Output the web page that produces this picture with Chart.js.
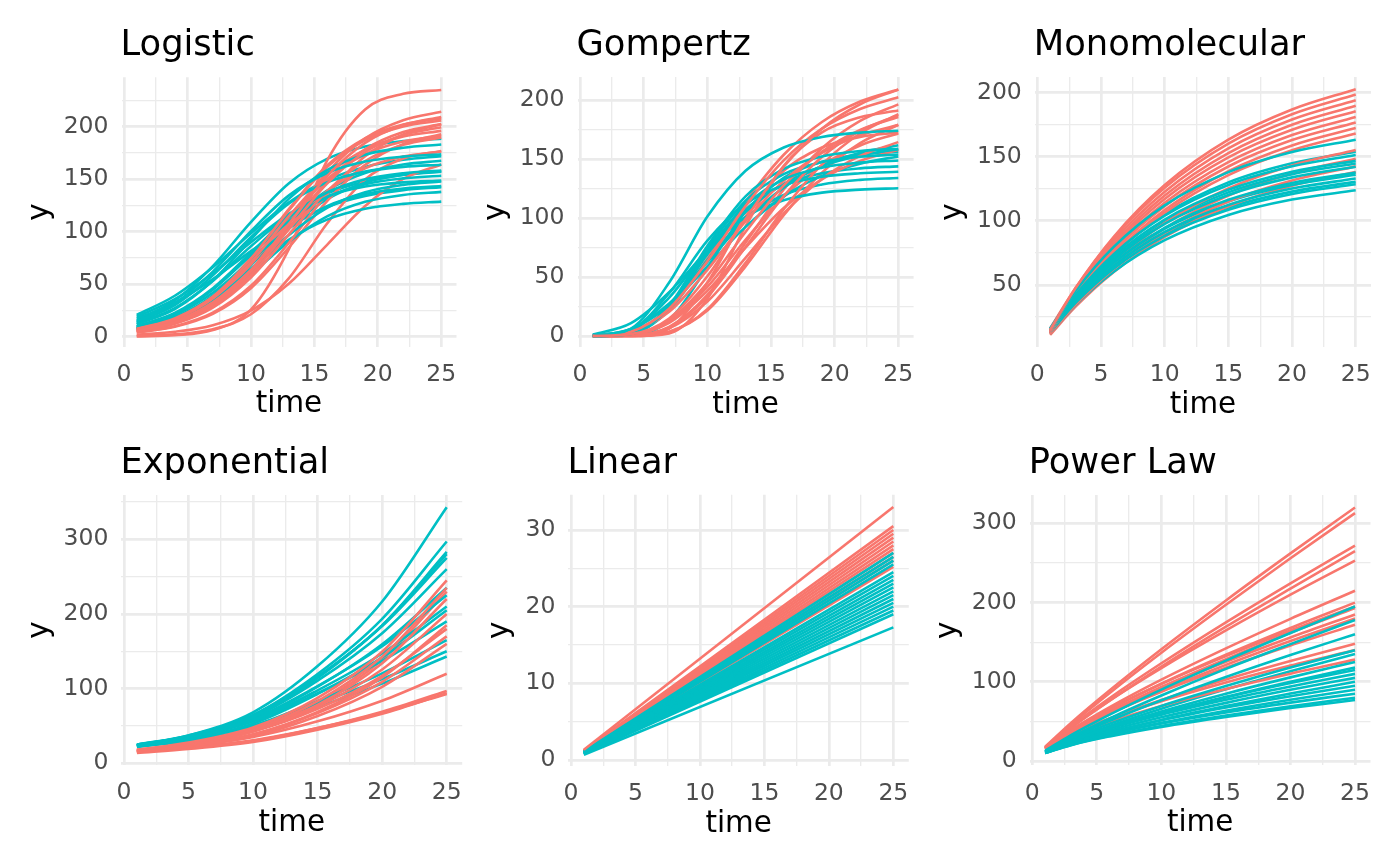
<!DOCTYPE html>
<html lang="en">
<head>
  <meta charset="UTF-8" />
  <title>Growth curve models</title>
  <script src="https://cdn.jsdelivr.net/npm/chart.js"></script>
  <style>
    body { margin: 0; background: #fff; }
    #wrap { position: relative; width: 1400px; height: 865px; overflow: hidden; }
    #wrap canvas { position: absolute; }
  </style>
</head>
<body>
<div id="wrap">
  <canvas id="logistic"></canvas>
  <canvas id="gompertz"></canvas>
  <canvas id="mono"></canvas>
  <canvas id="expo"></canvas>
  <canvas id="linear"></canvas>
  <canvas id="power"></canvas>
</div>
<script>
// colours of the two groups (ggplot default hues)
const RED = '#F8766D', TEAL = '#00BFC4';

// sample times per model
const tSig = [1, 4, 7, 10, 13, 16, 19, 22, 25];
const tMono = [1, 3, 6, 10, 15, 20, 25];
const tExp = [1, 5, 10, 15, 20, 25];
const tLin = [1, 25];
const tPow = [1, 3, 6, 10, 15, 20, 25];

// Logistic
const logisticRed = [
  [5.7, 13.5, 30.5, 62.1, 107.5, 152.9, 184.5, 201.5, 209.2],
  [5.5, 12.9, 29.1, 59.2, 102.5, 145.8, 175.9, 192.1, 199.5],
  [7.5, 17.4, 38.2, 74.3, 120.5, 161.5, 187.1, 200.1, 205.8],
  [7.1, 16.6, 36.4, 70.8, 114.8, 153.8, 178.2, 190.6, 196.0],
  [5.2, 12.3, 27.7, 56.4, 97.5, 138.6, 167.3, 182.7, 189.7],
  [6.4, 14.9, 32.8, 63.7, 103.3, 138.4, 160.4, 171.5, 176.4],
  [4.2, 10.0, 22.9, 48.5, 89.5, 135.7, 171.8, 192.6, 202.4],
  [5.9, 13.9, 31.2, 63.6, 110.0, 156.4, 188.8, 206.1, 214.1],
  [6.9, 16.2, 35.5, 69.0, 111.9, 150.0, 173.7, 185.8, 191.1],
  [4.0, 9.5, 21.8, 46.2, 85.2, 129.2, 163.6, 183.4, 192.8],
  [0.3, 1.4, 6.3, 25.7, 83.6, 167.7, 216.4, 231.3, 234.9],
  [1.9, 4.7, 11.0, 24.9, 50.6, 87.5, 124.4, 150.2, 164.0],
  [0.7, 2.2, 7.1, 21.4, 55.8, 107.8, 149.8, 169.7, 176.8],
  [5.5, 13.1, 29.5, 60.1, 104.0, 147.9, 178.5, 194.9, 202.4],
  [7.5, 17.6, 38.6, 75.0, 121.7, 163.0, 188.9, 202.0, 207.8]
];
const logisticTeal = [
  [14.5, 31.9, 62.0, 100.5, 134.6, 155.9, 166.8, 171.5, 173.6],
  [11.7, 26.3, 53.5, 92.5, 131.5, 158.7, 173.3, 180.0, 183.0],
  [13.7, 30.0, 58.4, 94.7, 126.9, 147.0, 157.2, 161.7, 163.7],
  [10.1, 22.7, 46.2, 80.0, 113.8, 137.3, 149.9, 155.7, 158.2],
  [9.8, 22.0, 44.8, 77.5, 110.2, 133.0, 145.2, 150.8, 153.3],
  [7.1, 16.4, 34.7, 63.9, 96.9, 122.7, 137.6, 144.6, 147.8],
  [9.1, 20.6, 41.9, 72.5, 103.1, 124.4, 135.9, 141.1, 143.4],
  [6.6, 15.3, 32.3, 59.6, 90.4, 114.5, 128.4, 135.0, 137.9],
  [8.2, 18.5, 37.6, 65.0, 92.4, 111.5, 121.8, 126.5, 128.6],
  [8.1, 18.5, 39.3, 72.4, 109.8, 139.1, 155.9, 163.9, 167.5],
  [12.5, 27.3, 53.1, 86.1, 115.4, 133.7, 143.0, 147.0, 148.8],
  [7.6, 17.4, 37.0, 68.2, 103.4, 130.9, 146.7, 154.2, 157.6],
  [19.0, 35.7, 60.5, 89.9, 117.0, 136.3, 147.8, 154.1, 157.1],
  [20.8, 39.0, 66.2, 98.4, 127.9, 149.1, 161.7, 168.5, 171.9],
  [17.3, 32.3, 54.8, 81.5, 106.0, 123.5, 134.0, 139.6, 142.4],
  [15.8, 34.6, 67.3, 109.1, 146.1, 169.3, 181.1, 186.2, 188.5]
];

// Gompertz
const gompertzRed = [
  [0.03, 1.6, 14.9, 50.6, 99.2, 143.6, 175.7, 196.4, 208.8],
  [0.13, 3.7, 23.2, 63.4, 110.1, 148.8, 175.7, 192.4, 202.3],
  [0.02, 1.4, 13.2, 45.0, 88.2, 127.6, 156.2, 174.6, 185.6],
  [0, 0.5, 7.4, 33.2, 75.4, 118.5, 151.7, 173.8, 187.2],
  [0.1, 3.3, 20.5, 56.1, 97.3, 131.5, 155.2, 170.1, 178.8],
  [0, 0.1, 3.6, 22.7, 62.0, 107.5, 145.3, 171.6, 188.0],
  [0, 0.4, 6.5, 29.2, 66.2, 104.0, 133.2, 152.6, 164.3],
  [0, 1.2, 11.2, 38.3, 75.0, 108.5, 132.8, 148.4, 157.8],
  [0, 0, 2.2, 31.6, 93.0, 144.3, 172.6, 185.4, 191.1],
  [0, 0, 6.3, 45.3, 101.2, 140.0, 159.8, 168.7, 172.4],
  [0, 0.1, 3.5, 21.6, 59.0, 102.4, 138.4, 163.4, 179.0],
  [0, 1.3, 12.2, 41.6, 81.6, 118.0, 144.5, 161.5, 171.7],
  [0.1, 3.8, 24.0, 65.5, 113.7, 153.6, 181.4, 198.7, 208.9],
  [0, 0.5, 7.7, 34.8, 79.1, 124.3, 159.1, 182.3, 196.3]
];
const gompertzTeal = [
  [0.05, 6.3, 45.3, 101.2, 140.0, 159.8, 168.7, 172.4, 174.0],
  [0, 1.7, 24.3, 71.6, 111.0, 132.8, 142.7, 147.0, 148.8],
  [0, 1.8, 25.9, 76.3, 118.4, 141.6, 152.2, 156.8, 158.7],
  [0.04, 5.0, 36.3, 80.9, 112.0, 127.8, 135.0, 137.9, 139.2],
  [0, 1.8, 25.1, 73.9, 114.7, 137.2, 147.4, 151.9, 153.8],
  [0.04, 4.5, 32.6, 72.8, 100.8, 115.0, 121.5, 124.1, 125.2],
  [1.2, 10.9, 37.1, 72.8, 105.3, 128.9, 144.0, 153.1, 158.4],
  [0.4, 5.8, 25.9, 58.9, 92.5, 118.4, 135.7, 146.1, 152.2],
  [0, 1.6, 23.5, 69.2, 107.3, 128.3, 137.9, 142.1, 143.8],
  [0.4, 6.1, 27.5, 62.6, 98.3, 125.8, 144.2, 155.2, 161.7],
  [0, 1.5, 21.9, 64.4, 99.9, 119.5, 128.4, 132.3, 133.9],
  [0, 0.4, 13.5, 58.1, 105.2, 134.0, 147.7, 153.7, 156.3]
];

// Monomolecular
const monoRed = [
  [15, 47.6, 87.6, 127.9, 163.3, 186.8, 202.7],
  [15, 46.1, 84.3, 122.7, 156.5, 179.0, 194.1],
  [14, 44.5, 82.0, 119.7, 152.8, 174.9, 189.7],
  [14, 43.7, 80.3, 117.1, 149.5, 171.0, 185.5],
  [13, 41.4, 76.4, 111.5, 142.4, 163.0, 176.8],
  [13, 42.2, 78.0, 114.1, 145.8, 166.9, 181.0],
  [12, 39.8, 74.0, 108.4, 138.7, 158.8, 172.4],
  [12, 34.6, 62.5, 90.5, 115.1, 131.5, 142.5],
  [12, 36.9, 67.4, 98.2, 125.2, 143.2, 155.3],
  [11, 33.1, 60.2, 87.4, 111.4, 127.4, 138.1],
  [16, 47.7, 86.6, 125.8, 160.2, 183.1, 198.5],
  [13, 39.9, 73.1, 106.4, 135.7, 155.1, 168.2],
  [12, 35.7, 64.8, 94.1, 119.8, 137.0, 148.5]
];
const monoTeal = [
  [16, 45.3, 79.7, 112.1, 138.0, 153.7, 163.3],
  [15, 42.2, 74.0, 104.0, 128.0, 142.5, 151.4],
  [15, 41.2, 72.0, 101.0, 124.2, 138.3, 146.8],
  [14, 39.5, 69.4, 97.6, 120.2, 133.9, 142.2],
  [14, 38.6, 67.4, 94.6, 116.4, 129.6, 137.7],
  [13, 36.9, 64.9, 91.3, 112.4, 125.2, 133.0],
  [13, 36.0, 62.9, 88.3, 108.6, 121.0, 128.5],
  [12, 34.3, 60.3, 84.9, 104.6, 116.6, 123.8],
  [15, 39.1, 67.3, 93.9, 115.1, 128.0, 135.9],
  [13, 39.2, 70.0, 99.0, 122.2, 136.3, 144.8],
  [14, 37.2, 64.3, 89.9, 110.4, 122.8, 130.4],
  [14, 41.9, 74.5, 105.3, 130.0, 144.9, 154.0]
];

// Exponential
const expoRed = [
  [18, 27.8, 47.9, 87.5, 149.3, 245],
  [17, 26.3, 45.5, 83.4, 142.8, 235],
  [16, 24.8, 42.8, 78.2, 134.1, 220],
  [17, 25.6, 42.8, 75.9, 125.7, 200],
  [15, 22.8, 38.5, 68.8, 115.2, 185],
  [18, 26.4, 42.7, 73.0, 117.2, 180],
  [16, 23.7, 38.8, 67.3, 109.1, 170],
  [15, 22.3, 36.4, 63.3, 102.5, 160],
  [17, 23.5, 35.4, 56.3, 83.9, 120],
  [15, 20.5, 30.2, 47.3, 69.1, 97],
  [14, 19.2, 28.6, 45.1, 66.4, 94],
  [16, 21.4, 31.0, 47.3, 67.7, 93],
  [16, 24.9, 43.5, 80.2, 138.6, 230]
];
const expoTeal = [
  [24, 37.4, 68.3, 130.2, 216.7, 343],
  [24, 36.5, 64.8, 119.7, 193.5, 297],
  [23, 34.9, 61.8, 114.3, 184.7, 283],
  [25, 37.3, 64.5, 116.4, 183.7, 275],
  [24, 35.7, 61.6, 110.7, 174.2, 260],
  [23, 33.9, 57.8, 102.6, 159.4, 235],
  [25, 36.1, 59.9, 103.5, 156.8, 225],
  [24, 34.4, 56.8, 97.8, 147.1, 210],
  [22, 31.9, 53.3, 93.0, 141.8, 205],
  [25, 35.1, 56.2, 93.8, 137.1, 190],
  [23, 31.9, 50.5, 83.5, 120.5, 165],
  [24, 32.6, 50.1, 80.4, 112.8, 150],
  [22, 30.1, 46.6, 75.4, 106.7, 143],
  [24, 36.1, 63.3, 115.7, 184.8, 280]
];

// Linear
const linearRed = [
  [1.32, 33], [1.22, 30.5], [1.2, 30], [1.18, 29.5], [1.16, 29], [1.14, 28.5],
  [1.12, 28], [1.1, 27.5], [1.08, 27], [1.06, 26.5], [1.04, 26], [1.01, 25.2]
];
const linearTeal = [
  [1.08, 27], [1.06, 26.5], [1.04, 26], [1.02, 25.5], [0.98, 24.5], [0.96, 24],
  [0.94, 23.5], [0.92, 23], [0.9, 22.5], [0.88, 22], [0.86, 21.5], [0.84, 21],
  [0.82, 20.5], [0.8, 20], [0.78, 19.5], [0.76, 19], [0.69, 17.3]
];

// Power law
const powerRed = [
  [18, 48.1, 89.3, 141.1, 202.7, 262.1, 320],
  [17, 45.9, 86.0, 136.7, 197.2, 255.9, 313],
  [17, 43.8, 79.6, 123.4, 175.1, 224.4, 272],
  [16, 41.8, 76.3, 119.2, 169.6, 217.6, 265],
  [17, 42.7, 76.5, 117.3, 164.9, 210.0, 253],
  [16, 38.9, 68.0, 102.7, 142.2, 179.5, 215],
  [16, 37.9, 65.3, 97.6, 134.1, 168.0, 200],
  [15, 35.9, 62.3, 93.5, 128.7, 162.0, 193],
  [16, 36.9, 62.4, 92.0, 125.3, 156.0, 185],
  [15, 35.0, 59.9, 88.8, 121.4, 151.5, 180],
  [16, 36.0, 60.0, 87.5, 117.9, 145.9, 172],
  [15, 32.7, 53.7, 77.1, 102.9, 126.2, 148],
  [16, 33.6, 53.6, 75.5, 99.2, 120.5, 140],
  [15, 31.2, 49.5, 69.6, 91.0, 110.3, 128],
  [17, 39.1, 66.1, 97.4, 132.4, 164.7, 195]
];
const powerTeal = [
  [13, 32.8, 58.6, 90.2, 126.8, 161.6, 195],
  [12, 30.1, 53.9, 82.7, 116.3, 147.6, 178],
  [12, 29.0, 50.8, 76.7, 106.2, 133.9, 160],
  [12, 27.7, 47.0, 69.6, 94.7, 118.1, 140],
  [11, 25.2, 42.6, 62.6, 85.0, 105.6, 125],
  [11, 24.8, 41.3, 60.0, 81.0, 100.0, 118],
  [12, 25.6, 41.2, 58.6, 77.3, 94.2, 110],
  [11, 23.8, 38.6, 55.2, 73.4, 89.9, 105],
  [10, 21.9, 36.0, 51.9, 69.3, 85.2, 100],
  [11, 23.0, 36.5, 51.5, 67.5, 81.8, 95],
  [10, 21.2, 34.0, 48.2, 63.6, 77.4, 90],
  [11, 22.1, 34.3, 47.4, 61.4, 73.7, 85],
  [10, 20.3, 31.8, 44.3, 57.5, 69.2, 80],
  [10, 20.1, 31.1, 43.1, 55.7, 66.9, 77],
  [11, 25.9, 44.4, 66.1, 90.6, 113.5, 135],
  [12, 25.9, 42.2, 60.4, 80.3, 98.4, 115]
];

Chart.defaults.font.family = '"DejaVu Sans", sans-serif';

// panel title drawn flush with the left edge of the plotting area
const panelTitle = {
  id: 'panelTitle',
  afterDraw(chart, args, opts) {
    const { ctx, chartArea } = chart;
    ctx.save();
    ctx.font = '35.3px "DejaVu Sans", sans-serif';
    ctx.fillStyle = '#000';
    ctx.textBaseline = 'alphabetic';
    ctx.textAlign = 'left';
    ctx.fillText(opts.text, chartArea.left - 1, chartArea.top - 22);
    ctx.restore();
  }
};

function series(t, rows, colour) {
  return rows.map(r => ({
    data: r.map((v, i) => ({ x: t[i], y: v })),
    borderColor: colour,
    borderWidth: 2.6,
    pointRadius: 0,
    fill: false,
    cubicInterpolationMode: 'monotone'
  }));
}

function interleave(a, b) {
  const out = [];
  for (let i = 0; i < Math.max(a.length, b.length); i++) {
    if (a[i]) out.push(a[i]);
    if (b[i]) out.push(b[i]);
  }
  return out;
}

// a tick is "major" every second minor step
const isMajor = (v, step) => Math.abs(v / (step * 2) - Math.round(v / (step * 2))) < 1e-6;

// box = canvas cell, area = wanted plotting rectangle (page px)
function panel(id, title, t, red, teal, box, area, y, titleX) {
  const cv = document.getElementById(id);
  cv.width = box.w; cv.height = box.h;
  cv.style.left = box.x + 'px'; cv.style.top = box.y + 'px';
  const grid = step => ({
    color: '#EBEBEB',
    drawTicks: false,
    lineWidth: c => (c.tick && isMajor(c.tick.value, step)) ? 2.7 : 1.35
  });
  new Chart(cv, {
    type: 'line',
    data: { datasets: interleave(series(t, red, RED), series(t, teal, TEAL)) },
    plugins: [panelTitle],
    options: {
      animation: false,
      responsive: false,
      layout: { padding: { top: area.T - box.y, left: 0, right: box.x + box.w - area.R, bottom: 0 } },
      plugins: {
        legend: { display: false },
        tooltip: { enabled: false },
        panelTitle: { text: title }
      },
      scales: {
        x: {
          type: 'linear', min: -0.2, max: 26.2,
          ticks: {
            stepSize: 2.5, includeBounds: false, autoSkip: false, maxRotation: 0,
            padding: 14, color: '#4D4D4D', font: { size: 23.5 },
            callback: v => isMajor(v, 2.5) ? String(v) : ''
          },
          grid: grid(2.5),
          border: { display: false },
          title: {
            display: true, text: 'time', color: '#000', font: { size: 29.4 },
            padding: { top: 0, bottom: (box.y + box.h) - (area.B + 58.1 + 17.65) }
          },
          afterFit: s => { s.height = box.y + box.h - area.B; }
        },
        y: {
          type: 'linear', min: y.min, max: y.max,
          ticks: {
            stepSize: y.step, includeBounds: false, autoSkip: false,
            padding: 13, color: '#4D4D4D', font: { size: 23.5 },
            callback: v => isMajor(v, y.step) ? String(v) : ''
          },
          grid: grid(y.step),
          border: { display: false },
          title: {
            display: true, text: 'y', color: '#000', font: { size: 29.4 },
            padding: { top: titleX - box.x - 17.65, bottom: 0 }
          },
          afterFit: s => { s.width = area.L - box.x; }
        }
      }
    }
  });
}

// canvases overlap a little; they are transparent, so the spare room on the
// right only keeps the last tick label from squeezing the plotting area
const row1 = { y: 0, h: 432 }, row2 = { y: 432, h: 433 };
const col1 = { x: 0, w: 485 }, col2 = { x: 460, w: 485 }, col3 = { x: 915, w: 485 };
const cell = (c, r) => ({ x: c.x, y: r.y, w: c.w, h: r.h });

panel('logistic', 'Logistic', tSig, logisticRed, logisticTeal, cell(col1, row1),
  { L: 121.5, R: 456.5, T: 77.3, B: 346.7 }, { min: -9.5, max: 247, step: 25 }, 40);
panel('gompertz', 'Gompertz', tSig, gompertzRed, gompertzTeal, cell(col2, row1),
  { L: 577.5, R: 913.6, T: 77, B: 347 }, { min: -9.3, max: 219.5, step: 25 }, 496);
panel('mono', 'Monomolecular', tMono, monoRed, monoTeal, cell(col3, row1),
  { L: 1034.8, R: 1371, T: 77, B: 347 }, { min: 1.6, max: 212.2, step: 25 }, 953.3);
panel('expo', 'Exponential', tExp, expoRed, expoTeal, cell(col1, row2),
  { L: 121.4, R: 462.2, T: 495, B: 765.2 }, { min: -2.5, max: 359.3, step: 50 }, 39.9);
panel('linear', 'Linear', tLin, linearRed, linearTeal, cell(col2, row2),
  { L: 568.4, R: 908.8, T: 494.7, B: 766.1 }, { min: -0.8, max: 34.6, step: 5 }, 500.4);
panel('power', 'Power Law', tPow, powerRed, powerTeal, cell(col3, row2),
  { L: 1029.7, R: 1370.5, T: 495.1, B: 765.4 }, { min: -5.5, max: 335.7, step: 50 }, 948.2);
</script>
</body>
</html>
